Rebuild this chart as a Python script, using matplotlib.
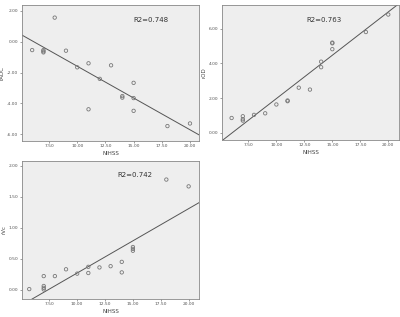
import matplotlib
matplotlib.use("Agg")
import matplotlib.pyplot as plt
import numpy as np

# NIHSS scores (shared x) and the three measures
nihss_adc = [6, 7, 7, 7, 8, 9, 10, 11, 11, 12, 13, 14, 14, 15, 15, 15, 18, 20]
radc = [-0.54, -0.54, -0.62, -0.69, 1.57, -0.58, -1.66, -1.40, -4.39, -2.41,
        -1.53, -3.53, -3.63, -2.67, -3.66, -4.49, -5.48, -5.31]

nihss_od = [6, 7, 7, 7, 8, 9, 10, 11, 11, 12, 13, 14, 14, 15, 15, 15, 18, 20]
rod = [0.85, 0.95, 0.78, 0.70, 1.03, 1.12, 1.63, 1.86, 1.82, 2.60, 2.49,
       4.10, 3.78, 5.20, 5.16, 4.82, 5.81, 6.82]

nihss_vc = [5.7, 7, 7, 7, 7, 8, 9, 10, 11, 11, 12, 13, 14, 14, 15, 15, 15, 18, 20]
rvc = [0.01, 0.22, 0.06, 0.03, 0.005, 0.22, 0.33, 0.26, 0.37, 0.27, 0.36, 0.38,
       0.45, 0.28, 0.69, 0.66, 0.63, 1.78, 1.67]

# fit lines as drawn (slope, intercept) and their labels
fits = [(-0.413, 2.54), (0.50, -3.03), (0.104, -0.77)]
r2_labels = ["R2=0.748", "R2=0.763", "R2=0.742"]
ylabels = ["rADC", "rOD", "rVc"]
xticks = [7.5, 10, 12.5, 15, 17.5, 20]

W, H = 400, 317
fig = plt.figure(figsize=(4, 3.17), dpi=100)

def px_axes(l, t, r, b):
    return fig.add_axes([l / W, 1 - b / H, (r - l) / W, (b - t) / H])

panels = [
    (px_axes(22, 5, 199, 141), nihss_adc, radc, (5.1, 20.8), (-6.45, 2.39),
     [2, 0, -2, -4, -6], (0.63, 0.89)),
    (px_axes(222, 5, 399, 140), nihss_od, rod, (5.14, 20.96), (-0.42, 7.37),
     [6, 4, 2, 0], (0.475, 0.89)),
    (px_axes(22, 161, 199, 299), nihss_vc, rvc, (5.05, 20.93), (-0.15, 2.08),
     [2, 1.5, 1, 0.5, 0], (0.54, 0.9)),
]

for i, (ax, xs, ys, xl, yl, yt, tpos) in enumerate(panels):
    ax.set_facecolor("#eeeeee")
    ax.scatter(xs, ys, s=6, facecolors="none", edgecolors="#777777",
               linewidths=0.6, zorder=3)
    slope, icpt = fits[i]
    lx = np.array(xl)
    ax.plot(lx, slope * lx + icpt, color="#555555", lw=0.7, zorder=2)
    ax.set_xlim(xl)
    ax.set_ylim(yl)
    ax.set_xticks(xticks)
    ax.set_xticklabels(["%.2f" % v for v in xticks])
    ax.set_yticks(yt)
    ax.set_yticklabels(["%.2f" % v for v in yt])
    ax.tick_params(labelsize=3.2, length=1.5, width=0.4, pad=1,
                   colors="#555555")
    for sp in ax.spines.values():
        sp.set_color("#888888")
        sp.set_linewidth(0.6)
    ax.set_xlabel("NIHSS", fontsize=4, color="#444444", labelpad=2)
    ax.set_ylabel(ylabels[i], fontsize=4, color="#444444", labelpad=2)
    ax.text(tpos[0], tpos[1], r2_labels[i], transform=ax.transAxes,
            fontsize=5, color="#333333", va="center")

fig.savefig("out.png", dpi=100)
